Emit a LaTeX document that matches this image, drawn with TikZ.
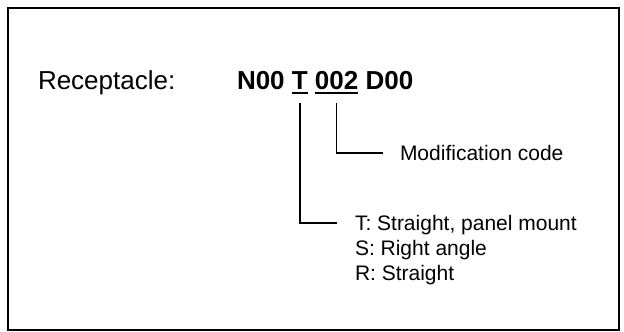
\documentclass[tikz,border=0pt]{standalone}
\usepackage{fontspec}
\setmainfont{Liberation Sans}
\begin{document}
\begin{tikzpicture}[x=1pt,y=-1pt,
  every node/.style={inner sep=0pt, outer sep=0pt},
  big/.style={font=\fontsize{26}{31}\selectfont},
  code/.style={font=\fontsize{26}{31}\selectfont\bfseries},
  small/.style={font=\fontsize{21}{25}\selectfont},
  conn/.style={line width=1.6pt},
  uline/.style={line width=2pt},
  frame/.style={line width=2pt}]
\useasboundingbox (0,0) rectangle (624,332);
\draw[frame] (8,8) rectangle (619,330);
\node[big, anchor=base west] (rec) at (38,89) {Receptacle:};
\node[code, anchor=base west] (n00) at (237,89) {N00};
\node[code, anchor=base west] (t) at ([xshift=7.2pt]n00.base east) {T};
\node[code, anchor=base west] (m002) at ([xshift=7.2pt]t.base east) {002};
\node[code, anchor=base west] (d00) at ([xshift=7.2pt]m002.base east) {D00};
\draw[uline] ([yshift=-4pt]t.base west) -- ([yshift=-4pt]t.base east);
\draw[uline] ([yshift=-4pt]m002.base west) -- ([yshift=-4pt]m002.base east);
\node[small, anchor=base west] (mod) at (400,160.5) {Modification code};
\node[small, anchor=base west] (optT) at (355,230.5) {T: Straight, panel mount};
\node[small, anchor=base west] (optS) at (355,255.5) {S: Right angle};
\node[small, anchor=base west] (optR) at (355,280) {R: Straight};
\draw[conn] ([yshift=-14pt]t.base) |- ([xshift=-18pt,yshift=7.5pt]optT.base west);
\draw[conn] ([yshift=-14pt]m002.base) |- ([xshift=-17pt,yshift=7.5pt]mod.base west);
\end{tikzpicture}
\end{document}
